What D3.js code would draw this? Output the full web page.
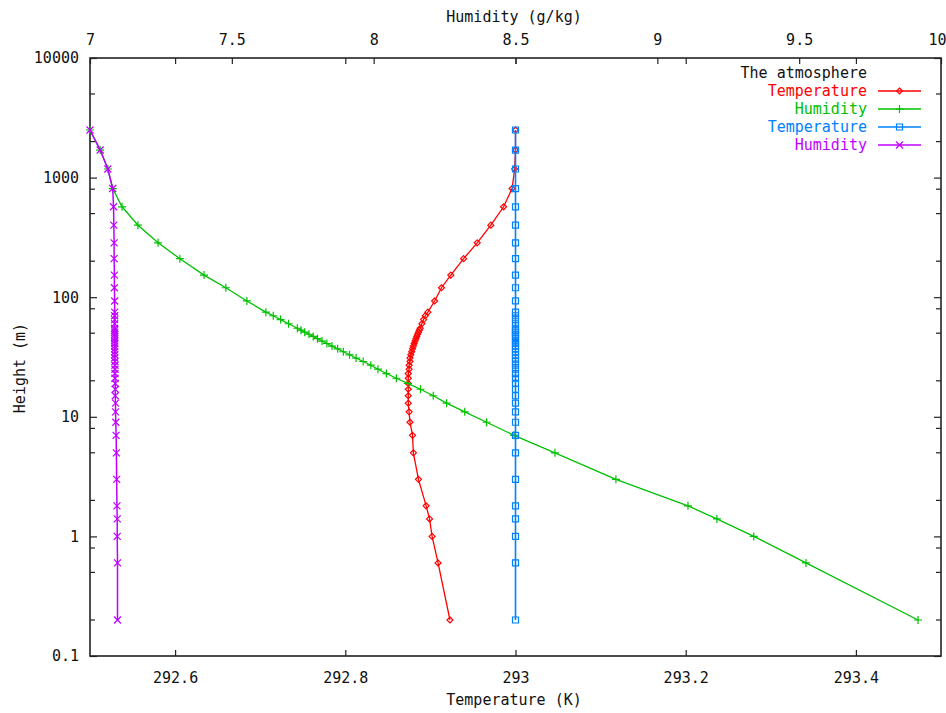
<!DOCTYPE html>
<html>
<head>
<meta charset="utf-8">
<script src="https://cdn.jsdelivr.net/npm/d3@7"></script>
<style>
  body { margin: 0; background: #fff; }
  svg text { font-family: "DejaVu Sans Mono", monospace; font-size: 15px; fill: #111; }
</style>
</head>
<body>
<div id="chart"></div>
<script>
// heights shared by every profile (m)
const heights = [0.2, 0.6, 1.0, 1.4, 1.8, 3, 5, 7,
  9, 11, 13, 15, 17, 19, 21, 23, 25, 27, 29, 31, 33, 35, 37, 39, 41, 43, 45, 47, 49, 51, 53, 55,
  60, 65, 70, 75, 93, 120, 153, 210, 285, 400, 570, 810, 1180, 1700, 2500]

// case 1 temperature (K)
const temperature1 = [292.923, 292.909, 292.902, 292.899, 292.895, 292.886, 292.880, 292.879,
  292.876, 292.875, 292.874, 292.874, 292.874, 292.874, 292.874, 292.874, 292.875, 292.875, 292.876, 292.876,
  292.877, 292.878, 292.879, 292.880, 292.881, 292.882, 292.883, 292.884, 292.885, 292.886, 292.887, 292.888,
  292.890, 292.892, 292.894, 292.897, 292.905, 292.913, 292.924, 292.939, 292.955, 292.971, 292.986, 292.996,
  292.999, 293.000, 293.000]

// case 1 humidity (g/kg)
const humidity1 = [9.919, 9.524, 9.340, 9.210, 9.108, 8.854, 8.639, 8.495,
  8.398, 8.321, 8.257, 8.210, 8.165, 8.120, 8.080, 8.045, 8.015, 7.990, 7.963, 7.938,
  7.915, 7.893, 7.873, 7.853, 7.835, 7.818, 7.802, 7.787, 7.772, 7.757, 7.744, 7.731,
  7.700, 7.672, 7.646, 7.620, 7.553, 7.479, 7.402, 7.317, 7.240, 7.169, 7.113, 7.080,
  7.063, 7.036, 7.000]

// case 2 temperature (K)
const temperature2 = [293, 293, 293, 293, 293, 293, 293, 293,
  293, 293, 293, 293, 293, 293, 293, 293, 293, 293, 293, 293,
  293, 293, 293, 293, 293, 293, 293, 293, 293, 293, 293, 293,
  293, 293, 293, 293, 293, 293, 293, 293, 293, 293, 293, 293,
  293, 293, 293]

// case 2 humidity (g/kg)
const humidity2 = [7.097, 7.097, 7.096, 7.096, 7.095, 7.094, 7.093, 7.092,
  7.091, 7.090, 7.090, 7.089, 7.089, 7.089, 7.088, 7.088, 7.088, 7.088, 7.088, 7.087,
  7.087, 7.087, 7.087, 7.087, 7.087, 7.087, 7.087, 7.087, 7.087, 7.087, 7.087, 7.087,
  7.087, 7.087, 7.087, 7.087, 7.087, 7.086, 7.086, 7.085, 7.085, 7.084, 7.083, 7.080,
  7.063, 7.036, 7.000]

const temperatureTicks = [292.6, 292.8, 293, 293.2, 293.4]
const humidityTicks = [7, 7.5, 8, 8.5, 9, 9.5, 10]
const heightTicks = [0.1, 1, 10, 100, 1000, 10000]
const heightMinorTicks = [0.2, 0.5, 0.8, 2, 5, 8, 20, 50, 80, 200, 500, 800, 2000, 5000]

class AtmosphereProfileChart {
  constructor(selector) {
    this.selector = selector
    this.width = 946
    this.height = 713
    this.plot = {left: 90, right: 941, top: 58, bottom: 656}
    this.series = [
      {name: 'Temperature', values: temperature1, axis: 'x', color: '#ff0000', marker: 'diamond', width: 1.3},
      {name: 'Humidity', values: humidity1, axis: 'x2', color: '#00c000', marker: 'plus', width: 1.3},
      {name: 'Temperature', values: temperature2, axis: 'x', color: '#0080ff', marker: 'square', width: 1.6},
      {name: 'Humidity', values: humidity2, axis: 'x2', color: '#c000ff', marker: 'cross', width: 1.5},
    ]
  }

  getScales() {
    const p = this.plot
    return {
      x: d3.scaleLinear().domain([292.5, 293.5]).range([p.left, p.right]),
      x2: d3.scaleLinear().domain([7, 10]).range([p.left, p.right]),
      y: d3.scaleLog().domain([0.1, 10000]).range([p.bottom, p.top]),
    }
  }

  markerPath(type) {
    if(type === 'diamond') return 'M0,-3L3,0L0,3L-3,0Z'
    if(type === 'plus') return 'M-4,0H4M0,-4V4'
    if(type === 'square') return 'M-3,-3H3V3H-3Z'
    return 'M-3.5,-3.5L3.5,3.5M-3.5,3.5L3.5,-3.5'
  }

  drawAxes(svg, s) {
    const p = this.plot
    const fmt = (d) => d3.format('')(d)

    const bottom = svg.append('g').attr('transform', `translate(0,${p.bottom})`)
      .call(d3.axisBottom(s.x).tickValues(temperatureTicks).tickSize(-6).tickPadding(16).tickFormat(fmt))
    const top = svg.append('g').attr('transform', `translate(0,${p.top})`)
      .call(d3.axisTop(s.x2).tickValues(humidityTicks).tickSize(-6).tickPadding(13).tickFormat(fmt))
    const left = svg.append('g').attr('transform', `translate(${p.left},0)`)
      .call(d3.axisLeft(s.y).tickValues(heightTicks).tickSize(-7).tickPadding(11).tickFormat(fmt))
    const right = svg.append('g').attr('transform', `translate(${p.right},0)`)
      .call(d3.axisRight(s.y).tickValues(heightTicks).tickSize(-7).tickFormat(''))
    // mirrored temperature ticks on the top edge
    const topMirror = svg.append('g').attr('transform', `translate(0,${p.top})`)
      .call(d3.axisTop(s.x).tickValues(temperatureTicks).tickSize(-6).tickFormat(''))

    ;[bottom, top, left, right, topMirror].forEach((g) => {
      g.select('.domain').remove()
      g.selectAll('line').attr('stroke', '#222').attr('stroke-width', 1.2)
      g.selectAll('text').attr('fill', '#111').style('font-size', '15px')
    })

    // last humidity label sits on the page edge, keep it inside
    top.selectAll('.tick text')
      .filter((d) => d === 10)
      .attr('text-anchor', 'end')
      .attr('dx', 5)

    // minor height ticks, both sides
    svg.append('g').selectAll('line')
      .data(heightMinorTicks.flatMap((d) => [[d, p.left, p.left + 5], [d, p.right, p.right - 5]]))
      .join('line')
        .attr('x1', (d) => d[1])
        .attr('x2', (d) => d[2])
        .attr('y1', (d) => s.y(d[0]))
        .attr('y2', (d) => s.y(d[0]))
        .attr('stroke', '#222')
        .attr('stroke-width', 1.2)

    svg.append('rect')
      .attr('x', p.left).attr('y', p.top)
      .attr('width', p.right - p.left).attr('height', p.bottom - p.top)
      .attr('fill', 'none').attr('stroke', '#222').attr('stroke-width', 1.6)

    svg.append('text').attr('x', 514).attr('y', 705).attr('text-anchor', 'middle').text('Temperature (K)')
    svg.append('text').attr('x', 514).attr('y', 22).attr('text-anchor', 'middle').text('Humidity (g/kg)')
    svg.append('text').attr('transform', 'translate(25,368) rotate(-90)').attr('text-anchor', 'middle').text('Height (m)')
  }

  drawSeries(svg, s) {
    this.series.forEach((ser) => {
      const xs = s[ser.axis]
      const pts = heights.map((h, i) => [xs(ser.values[i]), s.y(h)])
      const g = svg.append('g')
      g.append('path')
        .attr('d', d3.line()(pts))
        .attr('fill', 'none')
        .attr('stroke', ser.color)
        .attr('stroke-width', ser.width)
      g.selectAll('path.marker')
        .data(pts)
        .join('path')
          .attr('class', 'marker')
          .attr('transform', (d) => `translate(${d[0]},${d[1]})`)
          .attr('d', this.markerPath(ser.marker))
          .attr('fill', 'none')
          .attr('stroke', ser.color)
          .attr('stroke-width', 1.2)
    })
  }

  drawLegend(svg) {
    const lx = 867
    svg.append('text').attr('x', lx).attr('y', 78).attr('text-anchor', 'end').text('The atmosphere')
    const rows = svg.append('g').selectAll('g')
      .data(this.series)
      .join('g')
        .attr('transform', (d, i) => `translate(0,${91 + i * 18})`)
    rows.append('text')
      .attr('x', lx).attr('y', 5)
      .attr('text-anchor', 'end')
      .style('fill', (d) => d.color)
      .text((d) => d.name)
    rows.append('line')
      .attr('x1', 878).attr('x2', 921)
      .attr('stroke', (d) => d.color).attr('stroke-width', 1.3)
    rows.append('path')
      .attr('transform', 'translate(899.5,0)')
      .attr('d', (d) => this.markerPath(d.marker))
      .attr('fill', 'none')
      .attr('stroke', (d) => d.color)
      .attr('stroke-width', 1.2)
  }

  draw() {
    const svg = d3.select(this.selector).append('svg')
      .attr('width', this.width)
      .attr('height', this.height)
    svg.append('rect').attr('width', this.width).attr('height', this.height).attr('fill', '#fff')
    const s = this.getScales()
    this.drawAxes(svg, s)
    this.drawSeries(svg, s)
    this.drawLegend(svg)
  }
}

new AtmosphereProfileChart('#chart').draw()
</script>
</body>
</html>
